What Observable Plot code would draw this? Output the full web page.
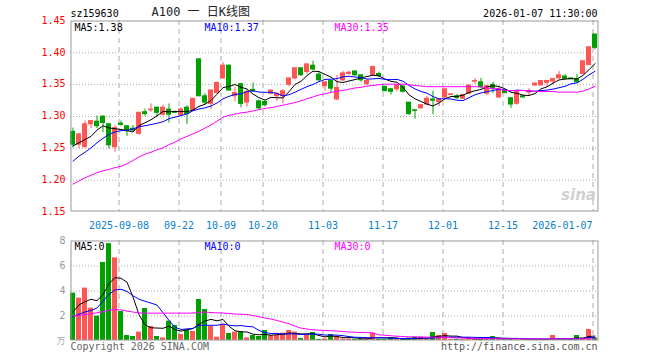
<!DOCTYPE html>
<html>
<head>
<meta charset="utf-8">
<script src="https://cdn.jsdelivr.net/npm/d3@7"></script>
<script src="https://cdn.jsdelivr.net/npm/@observablehq/plot@0.6"></script>
<style>
  html, body { margin: 0; padding: 0; background: #fff; }
  #chart { width: 660px; height: 360px; position: relative; }
  #chart svg { display: block; }
</style>
</head>
<body>
<div id="chart"></div>
<script>
// ---------- data ----------
const opens = [1.275,1.255,1.251,1.287,1.291,1.299,1.287,1.251,1.288,1.284,
  1.280,1.272,1.306,1.309,1.313,1.302,1.310,1.306,1.301,1.313,
  1.308,1.389,1.331,1.319,1.336,1.359,1.379,1.331,1.350,1.321,
  1.341,1.323,1.322,1.335,1.331,1.331,1.349,1.359,1.375,1.369,
  1.379,1.365,1.347,1.355,1.326,1.356,1.366,1.370,1.364,1.350,
  1.364,1.366,1.346,1.342,1.342,1.346,1.321,1.309,1.312,1.318,
  1.326,1.322,1.329,1.333,1.331,1.327,1.335,1.354,1.353,1.335,
  1.349,1.329,1.339,1.328,1.319,1.331,1.337,1.348,1.348,1.352,
  1.354,1.359,1.362,1.359,1.358,1.366,1.380,1.428];
const highs = [1.281,1.273,1.292,1.293,1.300,1.300,1.287,1.285,1.292,1.284,
  1.285,1.306,1.311,1.319,1.314,1.317,1.319,1.308,1.313,1.316,
  1.328,1.390,1.335,1.341,1.353,1.384,1.380,1.345,1.351,1.341,
  1.352,1.325,1.324,1.341,1.336,1.341,1.359,1.376,1.375,1.382,
  1.386,1.369,1.353,1.356,1.364,1.370,1.370,1.370,1.364,1.357,
  1.378,1.369,1.346,1.343,1.349,1.349,1.321,1.310,1.318,1.331,
  1.339,1.326,1.342,1.334,1.334,1.334,1.349,1.359,1.359,1.348,
  1.353,1.345,1.340,1.328,1.340,1.331,1.343,1.352,1.355,1.355,
  1.358,1.370,1.365,1.360,1.365,1.386,1.408,1.428];
const lows = [1.250,1.249,1.250,1.280,1.280,1.274,1.248,1.243,1.284,1.268,
  1.275,1.270,1.299,1.306,1.299,1.300,1.289,1.304,1.300,1.287,
  1.307,1.330,1.318,1.310,1.335,1.358,1.339,1.322,1.313,1.314,
  1.337,1.310,1.314,1.333,1.323,1.319,1.346,1.357,1.362,1.366,
  1.371,1.353,1.339,1.337,1.324,1.354,1.364,1.362,1.353,1.348,
  1.363,1.360,1.338,1.333,1.338,1.336,1.301,1.295,1.311,1.316,
  1.302,1.315,1.325,1.332,1.326,1.326,1.334,1.350,1.343,1.332,
  1.335,1.328,1.335,1.312,1.317,1.329,1.331,1.347,1.347,1.345,
  1.349,1.357,1.357,1.357,1.352,1.365,1.379,1.404];
const closes = [1.255,1.271,1.287,1.292,1.284,1.289,1.254,1.281,1.286,1.276,
  1.277,1.305,1.303,1.310,1.305,1.313,1.302,1.305,1.310,1.303,
  1.327,1.331,1.321,1.340,1.352,1.379,1.340,1.336,1.319,1.338,
  1.339,1.312,1.317,1.340,1.335,1.339,1.359,1.375,1.364,1.381,
  1.373,1.356,1.353,1.343,1.344,1.367,1.368,1.364,1.356,1.355,
  1.377,1.363,1.339,1.338,1.348,1.338,1.303,1.308,1.317,1.327,
  1.324,1.326,1.342,1.334,1.328,1.333,1.348,1.355,1.345,1.347,
  1.343,1.342,1.336,1.318,1.339,1.329,1.339,1.351,1.355,1.355,
  1.358,1.364,1.358,1.358,1.353,1.386,1.408,1.407];
const volumes = [3.79,3.39,4.19,2.59,1.95,6.24,7.75,6.61,2.32,0.40,
  0.32,0.67,2.56,1.12,0.32,0.21,1.55,1.20,0.48,0.85,
  0.72,3.28,2.48,1.12,0.27,1.28,0.56,0.67,0.69,0.21,
  0.40,0.32,0.80,0.40,0.40,0.59,0.80,0.67,0.16,0.45,
  0.64,0.08,0.13,0.48,0.32,0.11,0.11,0.10,0.08,0.19,
  0.59,0.08,0.08,0.19,0.08,0.08,0.19,0.27,0.27,0.08,
  0.64,0.40,0.56,0.08,0.08,0.08,0.21,0.08,0.19,0.13,
  0.32,0.19,0.08,0.13,0.13,0.05,0.08,0.08,0.08,0.08,
  0.40,0.08,0.08,0.08,0.40,0.21,0.88,0.19];
const priceMA30 = [1.193,1.198,1.203,1.207,1.211,1.214,1.216,1.219,1.221,1.225,
  1.230,1.236,1.240,1.243,1.247,1.250,1.255,1.259,1.264,1.268,
  1.272,1.276,1.281,1.286,1.292,1.298,1.301,1.303,1.305,1.306,
  1.308,1.310,1.312,1.313,1.315,1.317,1.319,1.321,1.324,1.327,
  1.330,1.333,1.335,1.337,1.339,1.340,1.342,1.344,1.345,1.347,
  1.348,1.349,1.350,1.350,1.350,1.350,1.349,1.348,1.347,1.346,
  1.346,1.346,1.346,1.346,1.346,1.346,1.346,1.346,1.346,1.344,
  1.343,1.343,1.340,1.340,1.340,1.340,1.340,1.3385,1.3385,1.3385,
  1.3385,1.3375,1.3375,1.3375,1.3375,1.339,1.3425,1.3465];
const volMA30 = [1.97,2.00,2.07,2.14,2.22,2.30,2.42,2.48,2.45,2.35,
  2.28,2.20,2.19,2.19,2.19,2.19,2.19,2.19,2.19,2.19,
  2.19,2.26,2.27,2.24,2.21,2.20,2.16,2.12,2.10,2.08,
  2.00,1.90,1.80,1.72,1.60,1.47,1.35,1.15,0.99,0.92,
  0.85,0.83,0.80,0.78,0.76,0.72,0.68,0.66,0.64,0.63,
  0.60,0.45,0.42,0.38,0.34,0.32,0.30,0.29,0.28,0.27,
  0.27,0.26,0.25,0.22,0.20,0.19,0.18,0.17,0.16,0.15,
  0.14,0.13,0.13,0.13,0.13,0.13,0.13,0.13,0.13,0.13,
  0.13,0.13,0.13,0.13,0.13,0.13,0.13,0.13];
// warm-up part of MA5 / MA10 (before a full window exists)
const priceMA5Head = [1.253,1.258,1.263,1.268];
const priceMA10Head = [1.229,1.237,1.243,1.250,1.258,1.265,1.271,1.275,1.277];
const volMA5Head = [2.27,2.85,3.10,3.30];
const volMA10Head = [1.90,2.10,2.28,2.40,2.60,3.15,3.70,4.05,4.10];

const tickIdx = [8,18,25,32,42,52,62,72,87];
const tickLabels = ["2025-09-08","09-22","10-09","10-20","11-03","11-17","12-01","12-15","2026-01-07"];
const priceTicks = [1.15,1.20,1.25,1.30,1.35,1.40,1.45];
const priceGrid = [1.20,1.25,1.30,1.35,1.40];
const volTicks = [2,4,6,8];
const volGrid = [2,4,6];
const priceLegend = ["MA5:1.38","MA10:1.37","MA30:1.35"];
const volLegend = ["MA5:0","MA10:0","MA30:0"];
const code = "sz159630";
const title = "A100 一 日K线图";
const stamp = "2026-01-07 11:30:00";

// ---------- build ----------
const RED = "#ff5555", GREEN = "#00a000";
const MA_COLORS = ["#000000", "#0000ff", "#ff00ff"];
const GRID = "#aaaaaa";
const rolling = (vals, k, head) => vals.map((v, i) => i < k - 1 ? head[i] : d3.mean(vals.slice(i - k + 1, i + 1)));
const pMA5 = rolling(closes, 5, priceMA5Head);
const pMA10 = rolling(closes, 10, priceMA10Head);
const vMA5 = rolling(volumes, 5, volMA5Head);
const vMA10 = rolling(volumes, 10, volMA10Head);

const rows = closes.map((c, i) => ({
  i, o: opens[i], h: highs[i], l: lows[i], c, v: volumes[i],
  col: c >= opens[i] ? RED : GREEN,
  m5: pMA5[i], m10: pMA10[i], m30: priceMA30[i],
  v5: vMA5[i], v10: vMA10[i], v30: volMA30[i]
}));
const ticks = tickIdx.map((i, k) => ({i, label: tickLabels[k]}));
const ticksMid = ticks.slice(0, -1);
const tickLast = ticks.slice(-1);
const N = closes.length;
const W = 5 / 6, MID = 5 / 12;
const MONO = "'DejaVu Sans Mono', monospace";

const legendMarks = (labels, dy) => labels.map((t, k) => Plot.text([t], {
  text: d => d, frameAnchor: "top-left", dx: 4 + 130 * k, dy, textAnchor: "start",
  lineAnchor: "middle", fill: MA_COLORS[k]
}));

const main = Plot.plot({
  width: 660, height: 232,
  marginTop: 20, marginBottom: 21, marginLeft: 70, marginRight: 62,
  style: {fontFamily: MONO, fontSize: "10px", background: "#fff", overflow: "visible"},
  x: {domain: [0, N], axis: null},
  y: {domain: [1.15, 1.45], axis: null},
  color: {type: "identity"},
  marks: [
    Plot.ruleY(priceGrid, {y: d => d, stroke: GRID, strokeDasharray: "1,2", dy: 0.5}),
    Plot.ruleX(ticks, {x: "i", stroke: GRID, strokeDasharray: "5,4", dx: 0.5}),
    Plot.ruleX(rows, {x: d => d.i + MID, y1: "l", y2: "h", stroke: "col"}),
    Plot.rect(rows, {x1: "i", x2: d => d.i + W, y1: "o", y2: "c", fill: "col", insetTop: -0.5, insetBottom: -0.5}),
    Plot.line(rows, {x: d => d.i + MID, y: "m5", stroke: MA_COLORS[0], strokeWidth: 1}),
    Plot.line(rows, {x: d => d.i + MID, y: "m10", stroke: MA_COLORS[1], strokeWidth: 1}),
    Plot.line(rows, {x: d => d.i + MID, y: "m30", stroke: MA_COLORS[2], strokeWidth: 1}),
    Plot.frame({stroke: "#999", insetLeft: 0.5, insetTop: 0.5, insetRight: 0.5, insetBottom: 0.5}),
    Plot.text(priceTicks, {y: d => d, text: d => d3.format(".2f")(d), frameAnchor: "left", dx: -5, textAnchor: "end", fill: "#ff0000"}),
    Plot.text(ticksMid, {x: "i", text: "label", frameAnchor: "bottom", dy: 14, lineAnchor: "middle", fill: "#0a7fcf", dx: 0.5}),
    Plot.text(tickLast, {x: "i", text: "label", frameAnchor: "bottom", dy: 14, lineAnchor: "middle", textAnchor: "end", fill: "#0a7fcf"}),
    ...legendMarks(priceLegend, 7),
    Plot.text([code], {text: d => d, frameAnchor: "top-left", dy: -7, textAnchor: "start", lineAnchor: "middle", fill: "#000"}),
    Plot.text([title], {text: d => d, frameAnchor: "top-left", dx: 81, dy: -8, textAnchor: "start", lineAnchor: "middle", fill: "#222", fontSize: 12, fontFamily: "'DejaVu Sans Mono', 'Noto Sans CJK SC', monospace"}),
    Plot.text([stamp], {text: d => d, frameAnchor: "top-right", dx: -1, dy: -7, textAnchor: "end", lineAnchor: "middle", fill: "#000"}),
    Plot.text(["sina"], {text: d => d, frameAnchor: "bottom-right", dx: -20, dy: -16, textAnchor: "middle", lineAnchor: "middle", fill: "#d0d0d0", fontSize: 15, fontWeight: "bold", fontStyle: "italic", fontFamily: "'DejaVu Sans', sans-serif"})
  ]
});

const vol = Plot.plot({
  width: 660, height: 128,
  marginTop: 8, marginBottom: 20, marginLeft: 70, marginRight: 62,
  style: {fontFamily: MONO, fontSize: "10px", background: "#fff", overflow: "visible"},
  x: {domain: [0, N], axis: null},
  y: {domain: [0, 8], axis: null},
  color: {type: "identity"},
  marks: [
    Plot.ruleY(volGrid, {y: d => d, stroke: GRID, strokeDasharray: "1,2", dy: 0.5}),
    Plot.ruleX(ticks, {x: "i", stroke: GRID, strokeDasharray: "5,4", dx: 0.5}),
    Plot.rect(rows, {x1: "i", x2: d => d.i + W, y1: 0, y2: "v", fill: "col"}),
    Plot.line(rows, {x: d => d.i + MID, y: "v5", stroke: MA_COLORS[0], strokeWidth: 1}),
    Plot.line(rows, {x: d => d.i + MID, y: "v10", stroke: MA_COLORS[1], strokeWidth: 1}),
    Plot.line(rows, {x: d => d.i + MID, y: "v30", stroke: MA_COLORS[2], strokeWidth: 1}),
    Plot.frame({stroke: "#999", insetLeft: 0.5, insetTop: 0.5, insetRight: 0.5, insetBottom: 0.5}),
    Plot.text(volTicks, {y: d => d, text: d => String(d), frameAnchor: "left", dx: -5, textAnchor: "end", fill: "#999"}),
    Plot.text(["万"], {text: d => d, frameAnchor: "bottom-left", dx: -5, dy: 1, textAnchor: "end", lineAnchor: "middle", fill: "#aaa", fontFamily: "'Noto Sans CJK SC', sans-serif", fontSize: 9}),
    ...legendMarks(volLegend, 6),
    Plot.text(["Copyright 2026 SINA.COM"], {text: d => d, frameAnchor: "bottom-left", dy: 6, textAnchor: "start", lineAnchor: "middle", fill: "#666"}),
    Plot.text(["http://finance.sina.com.cn"], {text: d => d, frameAnchor: "bottom-right", dx: -1, dy: 6, textAnchor: "end", lineAnchor: "middle", fill: "#555"})
  ]
});

const root = document.getElementById("chart");
root.appendChild(main);
root.appendChild(vol);
</script>
</body>
</html>
